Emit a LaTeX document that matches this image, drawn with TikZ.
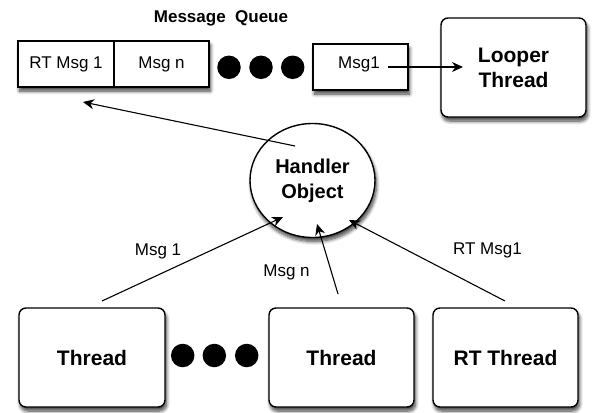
\documentclass[tikz,border=0pt]{standalone}
\usepackage{fontspec}
\setmainfont{Liberation Sans}
\usetikzlibrary{shadows,shadows.blur,arrows.meta,shapes.geometric}
\begin{document}
\begin{tikzpicture}[x=1pt,y=-1pt,
  shad/.style={blur shadow={shadow xshift=1.5pt,shadow yshift=-4pt,shadow blur radius=3.5pt,shadow blur steps=8,shadow opacity=75}},
  cell/.style={draw,line width=1.3pt,fill=white,minimum height=46pt,inner sep=0pt,font=\fontsize{17}{20}\selectfont},
  tbox/.style={draw,line width=1.4pt,fill=white,rounded corners=7pt,minimum width=145pt,minimum height=99pt,inner sep=0pt,align=center,font=\bfseries\fontsize{21}{25}\selectfont},
  dot/.style={circle,fill=black,minimum size=23.5pt,inner sep=0pt},
  conn/.style={line width=1.1pt,-{Stealth[length=11pt,width=10pt,inset=3.5pt]}},
  lbl/.style={font=\fontsize{17}{20}\selectfont,inner sep=0pt}]
\useasboundingbox (0,0) rectangle (596,412);
% title
\node[font=\bfseries\fontsize{17}{20}\selectfont] (title) at (221,18) {Message\ \ Queue};
% queue
\node[cell,shad,minimum width=191pt] (queue) at (113.5,64) {};
\draw[line width=1.3pt] (114,41) -- (114,87);
\node[lbl] (c1) at (66,64) {RT Msg 1};
\node[lbl] (c2) at (161.5,64) {Msg n};
% top dots
\node[dot] (d1) at (229,67.3) {};
\node[dot] (d2) at (261,67.3) {};
\node[dot] (d3) at (292.7,67.3) {};
% Msg1 box
\node[cell,shad,minimum width=95pt] (msg1) at (360.5,67) {};
\node[lbl] (m1) at (359,64.5) {Msg1};
% Looper
\node[tbox,shad] (looper) at (513.5,67.5) {Looper\\Thread};
% handler
\node[ellipse,draw,line width=1.4pt,fill=white,shad,minimum width=125pt,minimum height=114pt,inner sep=0pt,align=center,font=\bfseries\fontsize{20}{25}\selectfont] (handler) at (312.5,180.5) {Handler\\Object};
% threads
\node[tbox,shad,minimum width=146pt] (t1) at (92,357.5) {Thread};
\node[tbox,shad] (t2) at (341.5,357.5) {Thread};
\node[tbox,shad] (t3) at (505.5,357.5) {RT Thread};
% bottom dots
\node[dot] (b1) at (182.7,355.5) {};
\node[dot] (b2) at (214.3,355.5) {};
\node[dot] (b3) at (246.7,355.5) {};
% connector endpoints
\coordinate (ma) at (388,67);
\coordinate (mb) at (463,67);
\coordinate (ha) at (295,146);
\coordinate (hb) at (83,102);
\coordinate (s1) at (102,301);
\coordinate (e1) at (283,217);
\coordinate (s2) at (338,294);
\coordinate (e2) at (317,224);
\coordinate (s3) at (505,301);
\coordinate (e3) at (349,220);
% connectors
\draw[conn] (ma) -- (mb);
\draw[conn] (ha) -- (hb);
\draw[conn] (s1) -- (e1);
\draw[conn] (s2) -- (e2);
\draw[conn] (s3) -- (e3);
% labels
\node[lbl] (l1) at (158,251) {Msg 1};
\node[lbl] (l2) at (286.5,272) {Msg n};
\node[lbl] (l3) at (487.5,250) {RT Msg1};
\end{tikzpicture}
\end{document}
